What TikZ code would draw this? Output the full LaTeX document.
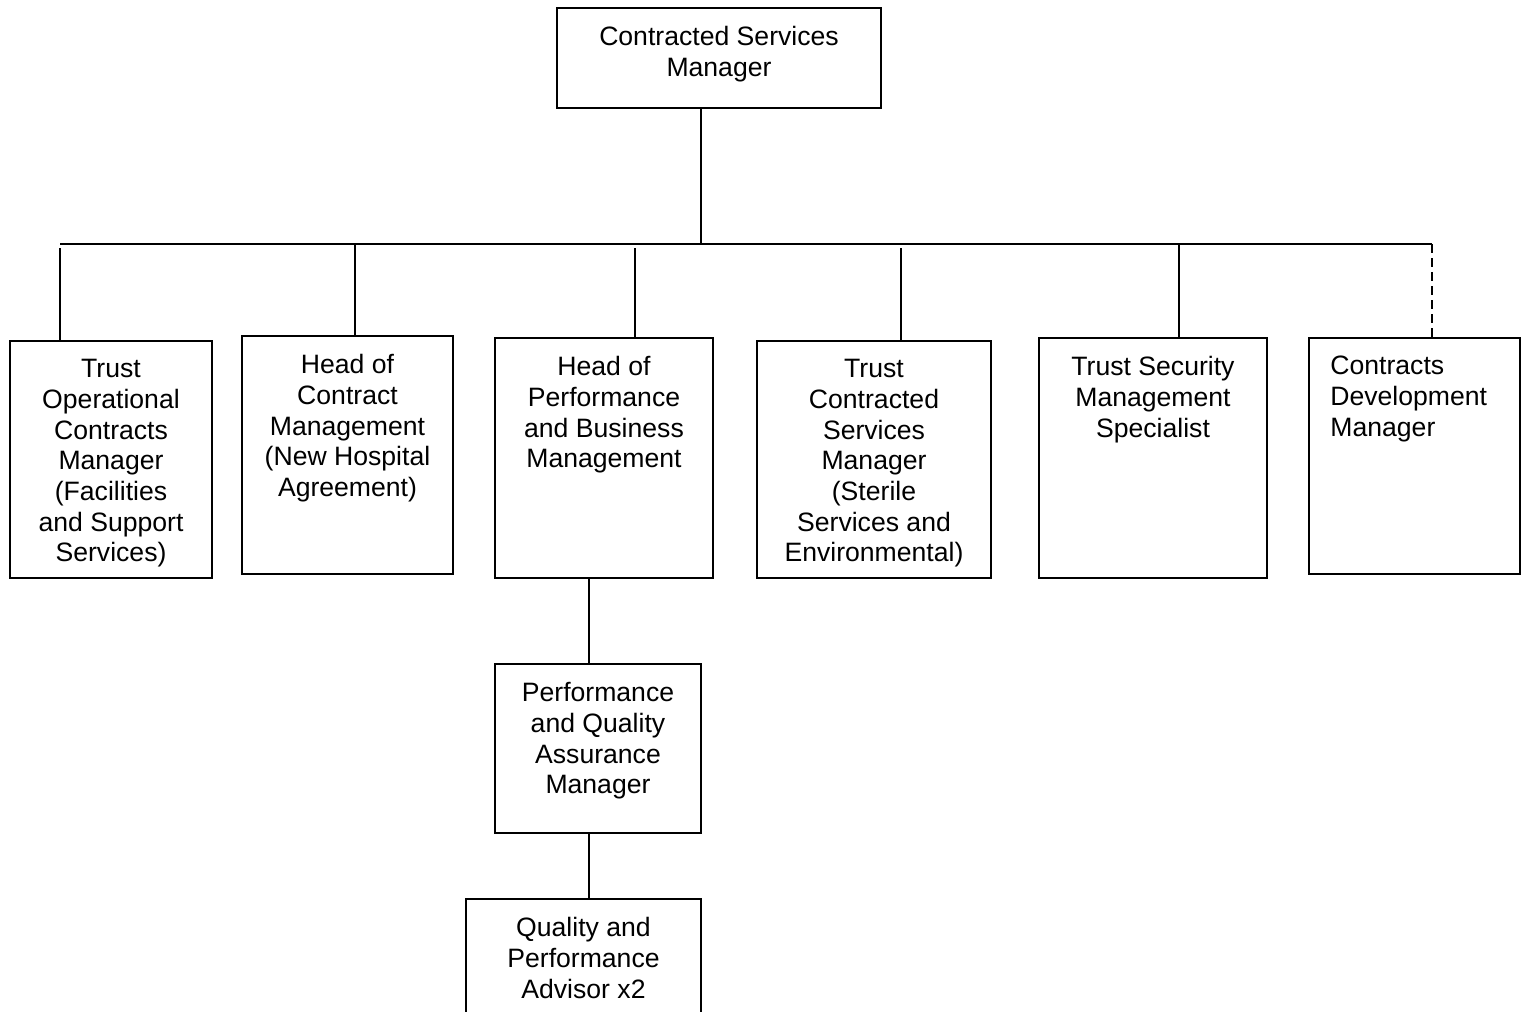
\documentclass[tikz,border=0pt]{standalone}
\usepackage{fontspec}
\setmainfont{Liberation Sans}
\usetikzlibrary{positioning}

\tikzset{
	post/.style={draw, line width=1pt, anchor=north west, inner sep=0pt, outer sep=0pt},
	posttext/.style={anchor=north, align=center, inner sep=0pt, yshift=-9pt,
		font=\fontsize{13.3}{15.35}\selectfont},
	link/.style={line width=1pt}
}

\begin{document}
\begin{tikzpicture}[x=0.5pt, y=-0.5pt]

\clip (0,0) rectangle (1528,1012);

% boxes
\node[post, minimum width=162pt, minimum height=50pt] (top) at (557,8) {};
\node[post, minimum width=101pt, minimum height=118.5pt] (ops) at (10,341) {};
\node[post, minimum width=105.5pt, minimum height=119pt] (hcm) at (242,336) {};
\node[post, minimum width=109pt, minimum height=120pt] (hpb) at (495,338) {};
\node[post, minimum width=117pt, minimum height=118.5pt] (tcs) at (757,341) {};
\node[post, minimum width=114pt, minimum height=120pt] (tsm) at (1039,338) {};
\node[post, minimum width=105.5pt, minimum height=118pt] (cdm) at (1309,338) {};
\node[post, minimum width=103pt, minimum height=84.5pt] (pqa) at (495,664) {};
\node[post, minimum width=117.5pt, minimum height=70pt] (qpa) at (466,899) {};

% labels
\node[posttext] (toptxt) at (top.north) {Contracted Services\\Manager};
\node[posttext] (opstxt) at (ops.north) {Trust\\Operational\\Contracts\\Manager\\(Facilities\\and Support\\Services)};
\node[posttext] (hcmtxt) at (hcm.north) {Head of\\Contract\\Management\\(New Hospital\\Agreement)};
\node[posttext] (hpbtxt) at (hpb.north) {Head of\\Performance\\and Business\\Management};
\node[posttext] (tcstxt) at (tcs.north) {Trust\\Contracted\\Services\\Manager\\(Sterile\\Services and\\Environmental)};
\node[posttext] (tsmtxt) at (tsm.north) {Trust Security\\Management\\Specialist};
\node[posttext, anchor=north west, align=left, xshift=10.5pt] (cdmtxt) at (cdm.north west) {Contracts\\Development\\Manager};
\node[posttext] (pqatxt) at (pqa.north) {Performance\\and Quality\\Assurance\\Manager};
\node[posttext] (qpatxt) at (qpa.north) {Quality and\\Performance\\Advisor x2};

% horizontal bus
\coordinate (busl) at (60,244);
\coordinate (busr) at (1432,244);
\coordinate (trunk) at (701,244);
\draw[link] (busl) -- (busr);
\draw[link] (top.south -| trunk) -- (trunk);

% stubs
\coordinate (s1) at (60,248);
\coordinate (s2) at (355,244);
\coordinate (s3) at (635,248);
\coordinate (s4) at (901,248);
\coordinate (s5) at (1179,244);
\draw[link] (s1) -- (s1 |- ops.north);
\draw[link] (s2) -- (s2 |- hcm.north);
\draw[link] (s3) -- (s3 |- hpb.north);
\draw[link] (s4) -- (s4 |- tcs.north);
\draw[link] (s5) -- (s5 |- tsm.north);
\draw[link, dash pattern=on 4.5pt off 2.5pt] (busr) -- (busr |- cdm.north);

% lower chain
\coordinate (drop) at (589,700);
\draw[link] (hpb.south -| drop) -- (pqa.north -| drop);
\draw[link] (pqa.south -| drop) -- (qpa.north -| drop);

\end{tikzpicture}
\end{document}
